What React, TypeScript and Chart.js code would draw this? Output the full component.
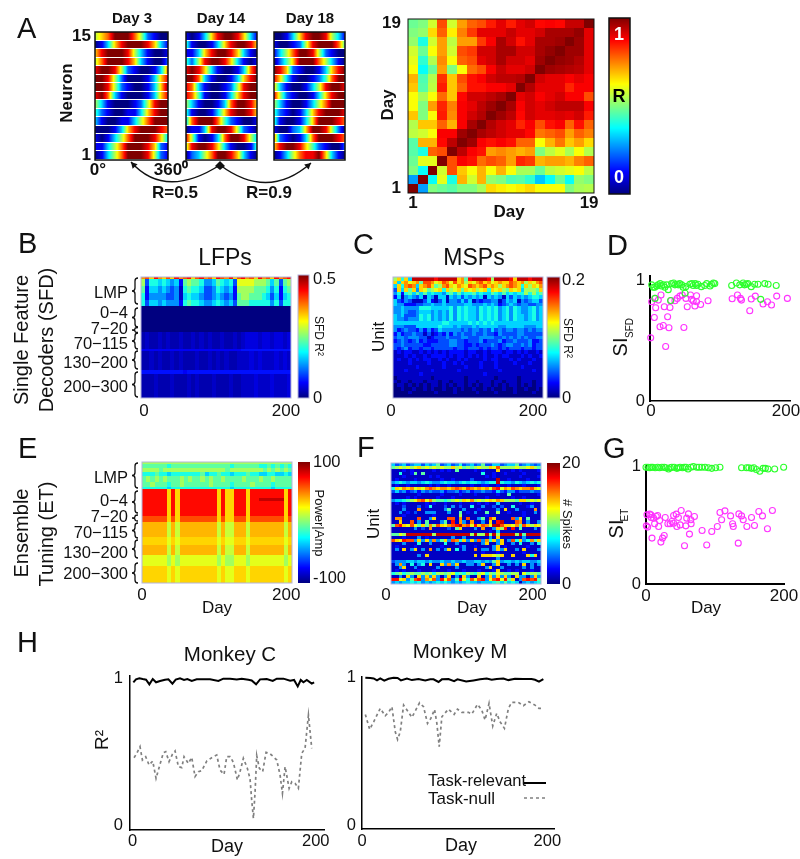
import React, { useEffect, useRef } from "react";
import { Chart, registerables } from "chart.js";
Chart.register(...registerables);

const FONT = "'Liberation Sans', Arial, sans-serif";

/* ---------- Panel A: tuning curves, 0-9 levels along 0..360 deg, neuron 15 first ---------- */
const day3Rows = ["567999752100","013689998631","689998531001","579998631002","899852100137","998520001368","998521001369","897310001368","531000125899","421001136899","310011357999","000136899987","101357999863","113579998621","013579998521"];
const day14Rows = ["101368998631","410013689986","113689986310","425899863101","898631001379","997310013689","873100125899","874100136899","531001379986","410013689986","379997421001","011389985210","851013799853","589986310014","023579986310"];
const day18Rows = ["001368998531","100125899974","135799852100","024699975310","986210013689","863100124799","631001358998","852100136899","531001357999","421013689998","410013699987","100236998520","721013799987","689986421002","013578896310"];

/* ---------- Panel A: day by day correlation, day 19 first ---------- */
const corrRows = [
  [.48,.5,.58,.8,.58,.72,.78,.8,.85,.9,.85,.9,.92,.87,.88,.87,.93,.93,1],
  [.5,.52,.66,.78,.64,.75,.82,.9,.9,.9,.93,.9,.9,.92,.96,.96,.96,.98,.9],
  [.52,.4,.58,.72,.56,.72,.72,.82,.88,.96,.92,.86,.9,.96,.96,.97,1,.97,.9],
  [.58,.48,.62,.72,.58,.8,.82,.92,.92,.96,.96,.92,.92,.96,.98,1,.97,.97,.9],
  [.6,.42,.55,.74,.62,.78,.8,.9,.92,.96,.92,.92,.9,.97,1,.98,.97,.95,.9],
  [.62,.38,.48,.72,.5,.62,.77,.8,.88,.93,.9,.9,.92,1,.97,.96,.95,.94,.9],
  [.7,.45,.55,.83,.68,.8,.86,.88,.92,.94,.94,.95,1,.92,.9,.9,.88,.9,.88],
  [.68,.46,.56,.85,.68,.78,.86,.86,.88,.88,.9,1,.95,.9,.9,.9,.84,.88,.88],
  [.62,.54,.62,.77,.68,.87,.92,.92,.94,.96,1,.9,.92,.88,.9,.92,.88,.88,.8],
  [.62,.5,.72,.84,.75,.88,.9,.94,.97,1,.96,.88,.92,.9,.92,.94,.94,.94,.88],
  [.68,.5,.62,.85,.74,.88,.92,.95,1,.97,.94,.87,.92,.9,.9,.91,.9,.92,.85],
  [.55,.68,.68,.78,.7,.88,.96,1,.95,.92,.9,.84,.88,.8,.86,.88,.78,.86,.78],
  [.56,.58,.62,.88,.88,.97,1,.96,.94,.92,.9,.9,.87,.76,.78,.8,.72,.78,.75],
  [.46,.7,.7,.87,.94,1,.97,.88,.86,.88,.86,.78,.78,.62,.7,.76,.68,.72,.66],
  [.46,.4,.78,.8,1,.94,.88,.86,.72,.74,.72,.7,.72,.5,.56,.6,.54,.62,.55],
  [.48,.6,.6,1,.8,.88,.86,.77,.8,.78,.72,.84,.82,.7,.72,.72,.7,.75,.78],
  [.5,.38,1,.58,.8,.68,.62,.7,.62,.7,.62,.54,.54,.48,.56,.58,.6,.62,.56],
  [.28,1,.38,.6,.4,.7,.58,.7,.52,.5,.45,.46,.42,.32,.38,.48,.38,.52,.5],
  [1,.28,.5,.48,.46,.5,.5,.54,.66,.64,.62,.64,.66,.62,.62,.62,.5,.54,.55],
];

/* ---------- Panel B: LFP decoders (hex levels) ---------- */
const lfpRows = [
  "bcadbacadbcdacdbcadcbdacdbcadbcadbcd",
  "836656545278776445765639999888757378",
  "725545434167665334654528888777646267",
  "624444334156554334543427887776535256",
  "635545444267665445654537776666646366",
  "000000000000000000000000000000000000",
  "232232322322323232232232344434434434",
  "555555555555555555555555666666666666",
  "223232232322232232323223334343334343",
  "666666666656666666666666666666666666",
  "222322232223232223222322333433343334",
];
const lfpSpans = [2, 7, 7, 7, 6, 26, 17, 2, 19, 4, 24];
const lfpGains = [1, 1, 1, 1, 1, 1, 0.35, 0.35, 0.35, 0.35, 0.35];
const bandLabels = ["LMP", "0−4", "7−20", "70−115", "130−200", "200−300"];
const lfpBandTicks = [16, 36, 52, 67, 86, 110];

/* ---------- Panel C: MSP decoders ---------- */
const mspRows = [
  "8a6a5eeeeeedeeeeeab7deeeed8eeeedaeeedeeee",
  "a5ab9ab7ccb9acb9cab8a9bcab9abaacbab8a9bc",
  "5a6bcb5abca78bca9ba9cbabcaba8abcba6a8a9b",
  "3a5a7a4a9789a6a89a7a9a89a6a9a87a9a58887a",
  "4626757575655467575667565576575656686867",
  "2514543515415515453545451545415354545665",
  "5324311135213514435351323344135451434553",
  "5442223344544544444554445454234543443344",
  "4454444666555556465655465656456465445645",
  "4454334555454546465655465656456465445645",
  "5453334656454546465655465656456465545645",
  "5443444656454546465655465656456465545645",
  "5555555555555665555565656565555555555555",
  "4443335555556555454445455555445555544455",
  "4234332424235444443434434353434434434344",
  "2423343313123242434334334332433334433333",
  "3443444331233343334433344443343434343344",
  "2343234232223334433233342333423343334223",
  "3343333322333334433223233343234433434233",
  "3234233233233333233233323233232333233233",
  "1212211212121212222122112122212212121121",
  "1112121121222212122121212112122111212112",
  "1211212122112121121211112122111212111211",
  "1111211112111211212111121112111121112111",
  "1111112111111211111211121112111111211111",
  "1112111111211111121111111111211111111211",
  "1111111211111111111111112111111111111111",
  "0111111111011111111011111110111110111111",
  "1011011101110110111011011101101110111011",
  "0110101010110101011010101101010110101011",
  "0010010010100100101001001010010010010010",
  "0000100000010000100000100001000010000100",
  "0000000000000000000000000000000000000000",
];

/* ---------- Panel E: ensemble tuning ---------- */
const etRows = [
  "888888888888888888888888888888888888",
  "777777677777777777777677777766767676",
  "888878888888888888887888888887878787",
  "666766566666667566766566676655665565",
  "787878777878778787787777877787787777",
  "778777677877777787777677778777767777",
  "666666566666666666666566666666656666",
  "ddddddadadddddddddadaadddaddddddddad",
  "ddddddadadddddddddadaadddaddeeeeeead",
  "ddddddadadddddddddadaadddaddddddddad",
  "ccccccacacccccccccacaacccaccccccccac",
  "bbbbbb9b9bbbbbbbbb9b99bbb9bbbbbbbb9b",
  "aaaaaa9a9aaaaaaaaa9a99aaa9aaaaaaaa9a",
  "bbbbbb9b9bbbbbbbbb9b99bbb9bbbbbbbb9b",
  "999999898999999999898899989999999989",
  "aaaaaa9a9aaaaaaaaa9a99aaa9aaaaaaaa9a",
];
const etSpans = [2, 4, 4, 4, 6, 5, 2, 9, 3, 15, 6, 15, 8, 10, 11, 17];
const etGains = [1, 1, 1, 1, 1, 1, 1, 1, 1, 1, 1, 0.95, 1, 0.95, 1, 1];
const etBandTicks = [16, 39, 55, 71, 91, 112];

/* ---------- Panel F: spikes per unit ---------- */
const spikeRows = [
  "5345345535457345346345347335534557345434",
  "7898989a89898988a897878988a9c88889889a87",
  "1112121111121212171111212111a11121211112",
  "1161127171111111111111116112112111121111",
  "1112111111212111111111111212111111211112",
  "1211112111111211211113111111e11211112111",
  "4565455456544565545656654566e65546545656",
  "1211211111212112111112112211211211121112",
  "6a9bab9a9bcbabbabcbacbabab9cd9bacbabbca9",
  "3534234243433423342342334332532442333433",
  "1111111211111211112111211111211711111112",
  "1111212111112111211111111211111121121111",
  "4556789bc9b87767898a9b8989a9ba8887aa8989",
  "1212111112121121112112121211511111211211",
  "1113111312611131413116114113131161112411",
  "1114111b1111114711141112111141a1141111b1",
  "1141213114441114117121411711811211121141",
  "1112111111121111118111111211111111121111",
  "1bb1111c114a111cc1b1c11471ca1111c4a17111",
  "11a11c1417111471d1b41b1141a1de111cb14114",
  "7cda9c97a7b8ca9bcdebc9dacb9eecaa9b7ca8a9",
  "1111114131b1111317a11141b114a8d1d1711141",
  "1111111111111111111111111121511111111111",
  "7798eeeeeee8eeeeeeeee8e88e8e8eeee8e7eeee",
  "1112111412111111411411111141a11111141111",
  "ca9dcc4a4a4b47a4cb6a4a4c4b6a4a14c6a46b7a",
  "1114111611411161141111114a114a1141611416",
  "1211112111111211112411211114a12111112111",
  "141a14a141b1414a161411b14414a4a1141a1114",
  "1111111111111111111111112111211111121111",
  "111111141a111111111111a1aaa98a11a111a6a1",
  "1111111111111111111111111111411111111111",
  "3444554554544544544544554547a45545455445",
  "14b4161461a11a4b4a114414a114a114141a1414",
  "114a1141111141111411111114a1141111141411",
  "1212111211121112111211121112a11212111211",
  "6786787787868878967687689687987788197887",
  "1141a41a4a4a414a141a411a14a4a4a41a4414a4",
  "dd9a47cd4b9c4d9c47d96c9cd49cd9d7a14cdcd7",
  "4545565645456565454565545556757565145456",
];

/* ---------- Panel D: SI SFD ---------- */
const dGreenDays = [2.5,5,7,10,12,15,17,20,22,25,27,32,35,37,40,42,44,47,49,53,59,62,64,67,69,71,76,81,84,89,91,94,96,121,128,133,138,140,143,145,150,155,160,170,175,187,7.4,30.5,52,164];
const dGreenSI = [.96,.94,.94,.95,.96,.97,.95,.96,.94,.96,.92,.97,.975,.96,.965,.96,.97,.96,.94,.945,.965,.97,.955,.97,.955,.965,.945,.955,.97,.95,.965,.975,.97,.955,.975,.96,.975,.96,.965,.97,.945,.965,.965,.97,.965,.955,.848,.83,.89,.84];
const dPinkDays = [1,2.5,6.4,7.4,8.4,12.3,14.8,16.3,19.7,21.2,23.2,26.1,28.1,29.6,31,37,40.4,44.3,47.8,50.2,53.2,55.2,60,61.6,64,66.5,69,69,75,86,121.7,129.6,134,135.5,147.8,150,156,167.5,174,180,187.7,203.5];
const dPinkSI = [.522,.82,.69,.848,.77,.834,.613,.876,.624,.779,.45,.696,.605,.773,.829,.829,.848,.867,.876,.608,.848,.779,.876,.84,.826,.785,.87,.82,.798,.829,.845,.876,.848,.834,.746,.843,.867,.801,.82,.793,.867,.848];

/* ---------- Panel G: SI ET ---------- */
const gGreenDays = [0,2.9,5.3,7.2,9.6,13.4,16.8,19.7,23,26.4,28.8,32.7,35,37.5,40.8,44.7,47,49.5,52.9,55.3,58,61,64.9,68.7,73.6,76.9,80.8,85.6,90.4,95.3,101,107.2,138.5,145.7,149,152.9,156.3,160,164.9,169.7,173,176.9,186.5,199.5];
const gGreenSI = [.99,.99,.985,.99,.99,.985,.99,.985,.99,.99,.985,.975,.985,.99,.99,.98,.985,.99,.985,.99,.99,.975,.99,.995,.99,.99,.99,.99,.985,.98,.985,.99,.985,.985,.985,.98,.985,.97,.955,.98,.98,.975,.975,.99];
const gPinkDays = [1.4,.5,2.4,5.3,7.2,7.7,8.7,11,12.5,14.9,16.8,18.3,19.7,21.6,24,26.4,27.9,31.7,35,37.5,40,40,43.8,44.7,47,49.5,51,55.8,57.7,59,61.5,63,65,65.4,70.2,81.3,88,95.3,103.4,107.2,109.6,114.4,122.6,125.5,126.5,133.7,134.6,138.5,140.9,146.2,152.9,157.2,163.5,168.8,176,183.2];
const gPinkSI = [.586,.493,.482,.592,.586,.563,.389,.558,.51,.572,.58,.487,.538,.355,.389,.411,.563,.51,.51,.53,.515,.58,.592,.487,.563,.501,.623,.324,.493,.558,.594,.423,.544,.51,.572,.454,.33,.445,.487,.606,.544,.62,.577,.51,.487,.346,.594,.577,.544,.487,.563,.496,.614,.577,.468,.623];

/* ---------- Panel H ---------- */
const seriesNames = ["Task-relevant", "Task-null"];
const cRelDays = [.7,3.6,7.3,10.9,14.6,18.2,21.9,25.5,29.9,35.3,39,43.4,47,51.7,56.1,59.7,64.5,69.9,77.2,84.5,93.6,99,106.4,113.7,119.1,126.4,130,134.8,139.2,146.4,153,157.4,164.7,172,176.3,180.3,183.6,186.5,190.2,195.6,198.2];
const cRelR2 = [.973,.993,1,.995,.991,.959,.995,.973,.982,.991,.993,.964,.991,1,.989,.995,.982,.993,.993,.993,.982,.998,.998,.993,.998,.991,.986,.959,.993,.995,.982,.998,.998,.984,.989,.945,.989,.973,.989,.964,.973];
const cNullDays = [1.5,4.4,8,10.6,14.2,17.9,21.9,25.5,29.1,33.5,36.1,39.7,43.4,46.3,49.9,53.6,56.1,60.8,64.5,68.1,71.8,75.4,80.9,86.3,91.8,95.4,99.8,102.7,106.4,110,114.4,117.3,120.9,125.3,128.2,130,131.9,133.7,135.5,138.4,142,145.7,149.4,153.7,157.4,161,163.6,166.5,170.9,173.8,177.4,181,184.7,188.3,192,195.6];
const cNullR2 = [.459,.489,.534,.443,.466,.409,.436,.318,.398,.493,.5,.432,.482,.505,.398,.391,.466,.42,.461,.33,.364,.37,.436,.459,.477,.375,.345,.466,.466,.427,.307,.364,.455,.386,.314,.17,.045,.227,.473,.386,.364,.495,.489,.466,.443,.341,.216,.398,.25,.295,.284,.25,.489,.523,.75,.523];
const mRelDays = [3.6,9,12.6,16.2,19.7,24,28.7,34.1,38.4,42,48.5,53.9,61,68.2,73.6,77.2,82.6,86.2,93.3,99.4,103,112.4,120.3,127.4,134.6,140,145.4,152.6,158,165.1,174,183,186.7,191,195.7];
const mRelR2 = [1,.998,.995,.982,.995,.98,.993,1,.998,.982,.995,.984,.991,.982,.989,.989,.971,.989,.991,.977,.989,.975,.982,.989,.995,.986,.991,.995,.984,.993,.991,.991,.986,.973,.991];
const mNullDays = [3.6,8.3,12.6,19.7,25.1,28.7,32.3,35.9,38.4,41.3,44.9,50.3,53.9,62.1,66.4,70.7,74.3,78.3,80.8,83.3,86.2,93.3,99.4,103,107.7,114.9,118.5,124.6,129.2,132.8,137.1,141.1,145.4,149,153.7,158,161.6,168.7,174.1,180.2,186.7,191,194.9];
const mNullR2 = [.751,.649,.701,.792,.742,.765,.803,.633,.581,.633,.814,.765,.731,.83,.803,.69,.724,.785,.69,.532,.735,.787,.751,.787,.765,.765,.753,.819,.781,.713,.826,.672,.758,.701,.656,.792,.833,.833,.81,.837,.814,.792,.792];

/* ---------- helpers ---------- */
const clamp = (v: number) => Math.max(0, Math.min(1, v));
function jet(t: number) {
  const c = (o: number) => Math.round(255 * clamp(1.5 - Math.abs(4 * t - o)));
  return `rgb(${c(3)},${c(2)},${c(1)})`;
}
type Cell = { x: number; y: number; x0: number; x1: number; y0: number; y1: number; v0: number; v1: number };
const zipXY = (xs: number[], ys: number[]) => xs.map((x, i) => ({ x, y: ys[i] }));

function dayCells(rows: string[]): Cell[] {
  const out: Cell[] = [];
  rows.forEach((row, r) => {
    const n = rows.length - r;
    for (let c = 0; c < row.length - 1; c++) {
      const x0 = (c * 360) / (row.length - 1);
      const x1 = ((c + 1) * 360) / (row.length - 1);
      out.push({ x: (x0 + x1) / 2, y: n, x0, x1, y0: n - 0.5, y1: n + 0.5, v0: +row[c] / 9, v1: +row[c + 1] / 9 });
    }
  });
  return out;
}
function corrCells(rows: number[][]): Cell[] {
  const out: Cell[] = [];
  rows.forEach((row, r) => {
    const d = rows.length - r;
    row.forEach((v, c) => out.push({ x: c + 1, y: d, x0: c + 0.5, x1: c + 1.5, y0: d - 0.5, y1: d + 0.5, v0: v, v1: v }));
  });
  return out;
}
function hexCells(rows: string[], cols: number, xMin: number, xMax: number, spans?: number[], gains?: number[]): Cell[] {
  const out: Cell[] = [];
  let y = 0;
  const w = (xMax - xMin) / cols;
  rows.forEach((row, r) => {
    const h = spans ? spans[r] : 1;
    const g = gains ? gains[r] : 1;
    for (let c = 0; c < cols; c++) {
      const ch = row[Math.min(c, row.length - 1)];
      const v = (parseInt(ch, 16) / 15) * g;
      const x0 = xMin + c * w;
      out.push({ x: x0 + w / 2, y: y + h / 2, x0, x1: x0 + w, y0: y, y1: y + h, v0: v, v1: v });
    }
    y += h;
  });
  return out;
}

const ML = 100, MR = 45, MT = 12, MB = 32;
type Ax = { min: number; max: number; ticks?: number[]; labels?: string[]; size?: number; bold?: boolean; pad?: number; offset?: number; line?: number; reverse?: boolean; right?: boolean };
type Spec = { id: string; l: number; t: number; r: number; b: number; x: Ax; y: Ax; datasets?: any[]; cells?: Cell[]; gap?: number; frame?: [string, number]; bar?: boolean };

function scaleOptions(a: Ax, horizontal: boolean) {
  const shown = !!a.ticks || !!a.line;
  return {
    type: "linear",
    display: shown,
    position: horizontal ? "bottom" : a.right ? "right" : "left",
    min: a.min,
    max: a.max,
    reverse: !!a.reverse,
    bounds: "data",
    grid: { display: false, drawTicks: false },
    border: { display: !!a.line, color: "#000", width: a.line || 0 },
    ticks: {
      display: !!a.ticks,
      autoSkip: false,
      minRotation: 0,
      maxRotation: 0,
      padding: a.pad ?? 3,
      labelOffset: a.offset ?? 0,
      color: "#111",
      font: { family: FONT, size: a.size ?? 16.5, weight: a.bold ? "bold" : "normal" },
      callback: (_v: number, i: number) => (a.labels ? a.labels[i] : ""),
    },
    afterBuildTicks: (s: any) => {
      s.ticks = (a.ticks || []).map((value) => ({ value }));
    },
    afterFit: (s: any) => {
      if (!shown) {
        s.width = 0;
        s.height = 0;
      } else if (horizontal) s.height = MB;
      else s.width = a.right ? MR : ML;
      s.paddingLeft = s.paddingRight = s.paddingTop = s.paddingBottom = 0;
    },
  };
}

function cellPlugin(spec: Spec) {
  return {
    id: "cells" + spec.id,
    beforeDatasetsDraw(chart: any) {
      const { ctx, scales, chartArea } = chart;
      const X = scales.x, Y = scales.y;
      ctx.save();
      if (spec.bar) {
        const lo = Math.round(chartArea.top), hi = Math.round(chartArea.bottom);
        for (let py = lo; py < hi; py++) {
          ctx.fillStyle = jet((hi - py - 0.5) / (hi - lo));
          ctx.fillRect(chartArea.left, py, chartArea.right - chartArea.left, 1);
        }
      }
      const cells: Cell[] = spec.cells || [];
      const gap = spec.gap || 0;
      for (const c of cells) {
        const a = Math.round(X.getPixelForValue(c.x0));
        const z = Math.round(X.getPixelForValue(c.x1));
        const p = Y.getPixelForValue(c.y0), q = Y.getPixelForValue(c.y1);
        const top = Math.round(Math.min(p, q));
        const h = Math.round(Math.max(p, q)) - top - gap;
        if (c.v0 === c.v1) {
          ctx.fillStyle = jet(c.v0);
          ctx.fillRect(a, top, z - a, h);
        } else {
          for (let px = a; px < z; px++) {
            ctx.fillStyle = jet(c.v0 + ((c.v1 - c.v0) * (px + 0.5 - a)) / (z - a));
            ctx.fillRect(px, top, 1, h);
          }
        }
      }
      if (spec.frame) {
        ctx.strokeStyle = spec.frame[0];
        ctx.lineWidth = spec.frame[1];
        ctx.strokeRect(chartArea.left, chartArea.top, chartArea.right - chartArea.left, chartArea.bottom - chartArea.top);
      }
      ctx.restore();
    },
  };
}

function Panel({ spec }: { spec: Spec }) {
  const ref = useRef<HTMLCanvasElement>(null);
  const w = spec.r - spec.l + ML + MR;
  const h = spec.b - spec.t + MT + MB;
  useEffect(() => {
    const xShown = !!spec.x.ticks || !!spec.x.line;
    const yShown = !!spec.y.ticks || !!spec.y.line;
    const rightAxis = yShown && spec.y.right;
    const chart = new Chart(ref.current as HTMLCanvasElement, {
      type: "scatter",
      data: {
        datasets:
          spec.datasets ||
          (spec.cells ? [{ label: spec.id, data: spec.cells, pointRadius: 0, showLine: false }] : []),
      },
      options: {
        animation: false,
        responsive: false,
        devicePixelRatio: 1,
        events: [],
        layout: {
          padding: {
            left: yShown && !rightAxis ? 0 : ML,
            right: rightAxis ? 0 : MR,
            top: MT,
            bottom: xShown ? 0 : MB,
          },
        },
        plugins: { legend: { display: false }, title: { display: false }, tooltip: { enabled: false } },
        scales: { x: scaleOptions(spec.x, true), y: scaleOptions(spec.y, false) },
      } as any,
      plugins: [cellPlugin(spec)],
    } as any);
    return () => chart.destroy();
  }, [spec]);
  return (
    <canvas
      ref={ref}
      width={w}
      height={h}
      style={{ position: "absolute", left: spec.l - ML, top: spec.t - MT, display: "block" }}
    />
  );
}

/* ---------- panels ---------- */
const black: [string, number] = ["#111", 1.5];
const edge: [string, number] = ["#b4b4dc", 1];
const hidden = (min: number, max: number, reverse = false): Ax => ({ min, max, reverse });
const dot = (label: string, data: any[], color: string) => ({
  label, data, showLine: false, clip: false, pointRadius: 3, pointBorderWidth: 1.1,
  pointBorderColor: color, pointBackgroundColor: "rgba(0,0,0,0)",
});
const curve = (label: string, data: any[], color: string, width: number, dash: number[]) => ({
  label, data, showLine: true, tension: 0, pointRadius: 0, borderColor: color, borderWidth: width, borderDash: dash, clip: false,
});

const specs: Spec[] = [
  { id: "day3", l: 95, t: 32, r: 168, b: 160, gap: 1, frame: black, cells: dayCells(day3Rows),
    x: { min: 0, max: 360, ticks: [0, 360], labels: ["0°", "360⁰"], size: 17, bold: true, pad: 0, offset: 3 },
    y: { min: 0.5, max: 15.5, ticks: [1, 15], labels: ["1", "15"], size: 17, bold: true, pad: 4 } },
  { id: "day14", l: 186, t: 32, r: 257, b: 160, gap: 1, frame: black, cells: dayCells(day14Rows), x: hidden(0, 360), y: hidden(0.5, 15.5) },
  { id: "day18", l: 274, t: 32, r: 345, b: 160, gap: 1, frame: black, cells: dayCells(day18Rows), x: hidden(0, 360), y: hidden(0.5, 15.5) },
  { id: "corr", l: 408, t: 19, r: 594, b: 193, frame: ["#111", 1], cells: corrCells(corrRows),
    x: { min: 0.5, max: 19.5, ticks: [1, 19], labels: ["1", "19"], size: 17, bold: true, pad: 0.5 },
    y: { min: 0.5, max: 19.5, ticks: [1, 19], labels: ["1", "19"], size: 17, bold: true, pad: 7 } },
  { id: "corrBar", l: 609, t: 18, r: 630, b: 194, frame: black, bar: true, x: hidden(0, 1), y: hidden(0, 1) },

  { id: "lfp", l: 141, t: 277, r: 291, b: 398, frame: edge, cells: hexCells(lfpRows, 36, -4.2, 207, lfpSpans, lfpGains),
    x: { min: -4.2, max: 207, ticks: [0, 200], labels: ["0", "200"], size: 17, pad: 3.5 },
    y: { min: 0, max: 121, reverse: true, ticks: lfpBandTicks, labels: bandLabels, size: 16.5, pad: 13 } },
  { id: "lfpBar", l: 298, t: 275, r: 309, b: 398, frame: edge, bar: true, x: hidden(0, 1),
    y: { min: 0, max: 0.517, ticks: [0, 0.5], labels: ["0", "0.5"], right: true, pad: 4, size: 16.5 } },
  { id: "msp", l: 393, t: 277, r: 543, b: 398, frame: edge, cells: hexCells(mspRows, 40, 0, 211.3),
    x: { min: 0, max: 211.3, ticks: [0, 200], labels: ["0", "200"], size: 17, pad: 3.5, offset: -2 },
    y: hidden(0, mspRows.length, true) },
  { id: "mspBar", l: 547, t: 277, r: 560, b: 398, frame: edge, bar: true, x: hidden(0, 1),
    y: { min: 0, max: 0.2056, ticks: [0, 0.2], labels: ["0", "0.2"], right: true, pad: 2, size: 16.5 } },
  { id: "sfd", l: 650, t: 276, r: 790, b: 401, datasets: [dot("Task-relevant", zipXY(dGreenDays, dGreenSI), "#2bff2b"), dot("Task-null", zipXY(dPinkDays, dPinkSI), "#ff33ff")],
    x: { min: 0, max: 207.4, ticks: [0, 200], labels: ["0", "200"], size: 17, pad: 0.5, offset: 1, line: 1.5 },
    y: { min: 0, max: 1.033, ticks: [0, 1], labels: ["0", "1"], size: 16.5, pad: 5, line: 2 } },

  { id: "et", l: 142, t: 462, r: 292, b: 583, frame: edge, cells: hexCells(etRows, 36, 0, 207.9, etSpans, etGains),
    x: { min: 0, max: 207.9, ticks: [0, 200], labels: ["0", "200"], size: 17, pad: 2.5 },
    y: { min: 0, max: 121, reverse: true, ticks: etBandTicks, labels: bandLabels, size: 16.5, pad: 14 } },
  { id: "etBar", l: 298, t: 462, r: 310, b: 583, bar: true, x: hidden(0, 1),
    y: { min: -107, max: 101, ticks: [-100, 100], labels: ["-100", "100"], right: true, pad: 3, size: 16.5 } },
  { id: "spikes", l: 391, t: 463, r: 541, b: 584, frame: edge, cells: hexCells(spikeRows, 40, 0, 204.6),
    x: { min: 0, max: 204.6, ticks: [0, 200], labels: ["0", "200"], size: 17, pad: 1.5, offset: -5 },
    y: hidden(0, spikeRows.length, true) },
  { id: "spikeBar", l: 547, t: 463, r: 560, b: 584, bar: true, x: hidden(0, 1),
    y: { min: 0, max: 20, ticks: [0, 20], labels: ["0", "20"], right: true, pad: 2, size: 16.5 } },
  { id: "si", l: 646, t: 466, r: 784, b: 584, datasets: [dot("Task-relevant", zipXY(gGreenDays, gGreenSI), "#2bff2b"), dot("Task-null", zipXY(gPinkDays, gPinkSI), "#ff33ff")],
    x: { min: 0, max: 200, ticks: [0, 200], labels: ["0", "200"], size: 17, pad: 2.5, line: 2 },
    y: { min: 0, max: 1, ticks: [0, 1], labels: ["0", "1"], size: 16.5, pad: 5, line: 2 } },

  { id: "monkeyC", l: 130, t: 676, r: 324, b: 830, datasets: [curve(seriesNames[0], zipXY(cRelDays, cRelR2), "#000", 2, []), curve(seriesNames[1], zipXY(cNullDays, cNullR2), "#808080", 1.7, [3, 3])],
    x: { min: -2.95, max: 209, ticks: [0, 200], labels: ["0", "200"], size: 16.5, pad: 2, line: 1.5 },
    y: { min: -0.034, max: 1.016, ticks: [0, 1], labels: ["0", "1"], size: 16.5, pad: 7, line: 1.5 } },
  { id: "monkeyM", l: 362, t: 677, r: 554, b: 829, datasets: [curve(seriesNames[0], zipXY(mRelDays, mRelR2), "#000", 2, []), curve(seriesNames[1], zipXY(mNullDays, mNullR2), "#808080", 1.7, [3, 3])],
    x: { min: 0, max: 207.2, ticks: [0, 200], labels: ["0", "200"], size: 16.5, pad: 3, line: 1.5 },
    y: { min: -0.027, max: 1.005, ticks: [0, 1], labels: ["0", "1"], size: 16.5, pad: 6, line: 1.5 } },
];

/* ---------- annotation layer ---------- */
type T = [string, number, number, number, boolean?, number?, string?, CanvasTextAlign?];
const texts: T[] = [
  ["A", 17, 30, 29, false, 0, "#111", "left"], ["B", 18, 245, 29, false, 0, "#111", "left"], ["C", 353, 246, 29, false, 0, "#111", "left"],
  ["D", 607, 247, 29, false, 0, "#111", "left"], ["E", 18, 450, 29, false, 0, "#111", "left"], ["F", 357, 449, 29, false, 0, "#111", "left"],
  ["G", 603, 450, 29, false, 0, "#111", "left"], ["H", 17, 644, 29, false, 0, "#111", "left"],
  ["Day 3", 132, 19, 15, true], ["Day 14", 221, 19, 15, true], ["Day 18", 310, 19, 15, true],
  ["Neuron", 67, 93, 17, true, -90], ["R=0.5", 175, 193, 17, true], ["R=0.9", 269, 193, 17, true],
  ["Day", 509, 212, 17, true], ["Day", 388, 105, 17, true, -90],
  ["1", 619, 35, 18, true, 0, "#fff"], ["R", 619, 97, 18, true, 0, "#000"], ["0", 619, 178, 18, true, 0, "#fff"],
  ["Single Feature", 22, 340, 20, false, -90], ["Decoders (SFD)", 47, 340, 20, false, -90],
  ["LFPs", 225, 259, 23], ["MSPs", 474, 259, 23],
  ["SFD R²", 318, 336, 12, false, 90], ["SFD R²", 567, 338, 12, false, 90],
  ["Unit", 379, 337, 17, false, -90], ["Unit", 374, 524, 17, false, -90],
  ["SI", 621, 347, 20, false, -90], ["SFD", 630, 328, 10, false, -90],
  ["SI", 617, 529, 20, false, -90], ["ET", 625, 515, 10, false, -90],
  ["Ensemble", 22, 533, 20, false, -90], ["Tuning (ET)", 47, 534, 20, false, -90],
  ["Power|Amp", 319, 523, 13, false, 90], ["# Spikes", 567, 524, 13, false, 90],
  ["Day", 217, 608, 17], ["Day", 472, 608, 17], ["Day", 706, 608, 17],
  ["Monkey C", 230, 655, 20.5], ["Monkey M", 460, 652, 20.5],
  ["R²", 103, 740, 19, false, -90], ["Day", 227, 847, 18], ["Day", 461, 846, 18],
  [seriesNames[0], 428, 781, 16.5, false, 0, "#111", "left"], [seriesNames[1], 428, 799, 17, false, 0, "#111", "left"],
];
const leftBraces: [number, number][] = [[278, 304], [308, 327], [327.5, 332.5], [333, 349], [351, 369], [372, 397], [463, 488], [491, 513], [515, 521], [523, 538], [540, 558], [563, 583]];

const overlayPlugin = {
  id: "overlay",
  afterDraw(chart: any) {
    const ctx = chart.ctx as CanvasRenderingContext2D;
    ctx.save();
    ctx.textBaseline = "middle";
    for (const [s, x, y, size, bold, rot, color, align] of texts) {
      ctx.save();
      ctx.translate(x, y);
      ctx.rotate(((rot || 0) * Math.PI) / 180);
      ctx.font = `${bold ? "bold " : ""}${size}px ${FONT}`;
      ctx.fillStyle = color || "#111";
      ctx.textAlign = align || "center";
      ctx.fillText(s, 0, 0);
      ctx.restore();
    }
    // curly braces of the frequency bands
    ctx.strokeStyle = "#111";
    ctx.lineWidth = 1.3;
    const bx = 135;
    for (const [a, z] of leftBraces) {
      const m = (a + z) / 2;
      const k = Math.min(3, (z - a) / 4);
      ctx.beginPath();
      ctx.moveTo(bx + 3, a);
      ctx.quadraticCurveTo(bx, a, bx, a + k);
      ctx.lineTo(bx, m - k);
      ctx.quadraticCurveTo(bx, m, bx - 3, m);
      ctx.quadraticCurveTo(bx, m, bx, m + k);
      ctx.lineTo(bx, z - k);
      ctx.quadraticCurveTo(bx, z, bx + 3, z);
      ctx.stroke();
    }
    // arrows between the day panels
    const arc = (tx: number, ty: number, cx: number, cy: number) => {
      ctx.lineWidth = 1.4;
      ctx.beginPath();
      ctx.moveTo(220, 165);
      ctx.quadraticCurveTo(cx, cy, tx, ty);
      ctx.stroke();
      const ang = Math.atan2(ty - cy, tx - cx);
      ctx.fillStyle = "#111";
      ctx.beginPath();
      ctx.moveTo(tx, ty);
      ctx.lineTo(tx - 7 * Math.cos(ang - 0.5), ty - 7 * Math.sin(ang - 0.5));
      ctx.lineTo(tx - 7 * Math.cos(ang + 0.5), ty - 7 * Math.sin(ang + 0.5));
      ctx.closePath();
      ctx.fill();
    };
    arc(131, 162, 165, 200);
    arc(311, 163, 268, 201);
    ctx.fillStyle = "#111";
    ctx.beginPath();
    ctx.moveTo(220, 161);
    ctx.lineTo(225, 166);
    ctx.lineTo(220, 170);
    ctx.lineTo(215, 166);
    ctx.closePath();
    ctx.fill();
    // legend samples of Monkey M
    ctx.strokeStyle = "#000";
    ctx.lineWidth = 2;
    ctx.beginPath();
    ctx.moveTo(524, 783);
    ctx.lineTo(546, 783);
    ctx.stroke();
    ctx.strokeStyle = "#808080";
    ctx.lineWidth = 1.7;
    ctx.setLineDash([3, 3]);
    ctx.beginPath();
    ctx.moveTo(524, 798);
    ctx.lineTo(545, 798);
    ctx.stroke();
    ctx.restore();
  },
};

function Overlay() {
  const ref = useRef<HTMLCanvasElement>(null);
  useEffect(() => {
    const chart = new Chart(ref.current as HTMLCanvasElement, {
      type: "scatter",
      data: { datasets: [] },
      options: {
        animation: false,
        responsive: false,
        devicePixelRatio: 1,
        events: [],
        plugins: { legend: { display: false }, tooltip: { enabled: false } },
        scales: { x: { display: false }, y: { display: false } },
      },
      plugins: [overlayPlugin],
    } as any);
    return () => chart.destroy();
  }, []);
  return <canvas ref={ref} width={800} height={859} style={{ position: "absolute", left: 0, top: 0, pointerEvents: "none" }} />;
}

export default function App() {
  return (
    <div style={{ position: "absolute", left: 0, top: 0, width: 800, height: 859, overflow: "hidden", background: "#fff" }}>
      {specs.map((s) => (
        <Panel key={s.id} spec={s} />
      ))}
      <Overlay />
    </div>
  );
}
